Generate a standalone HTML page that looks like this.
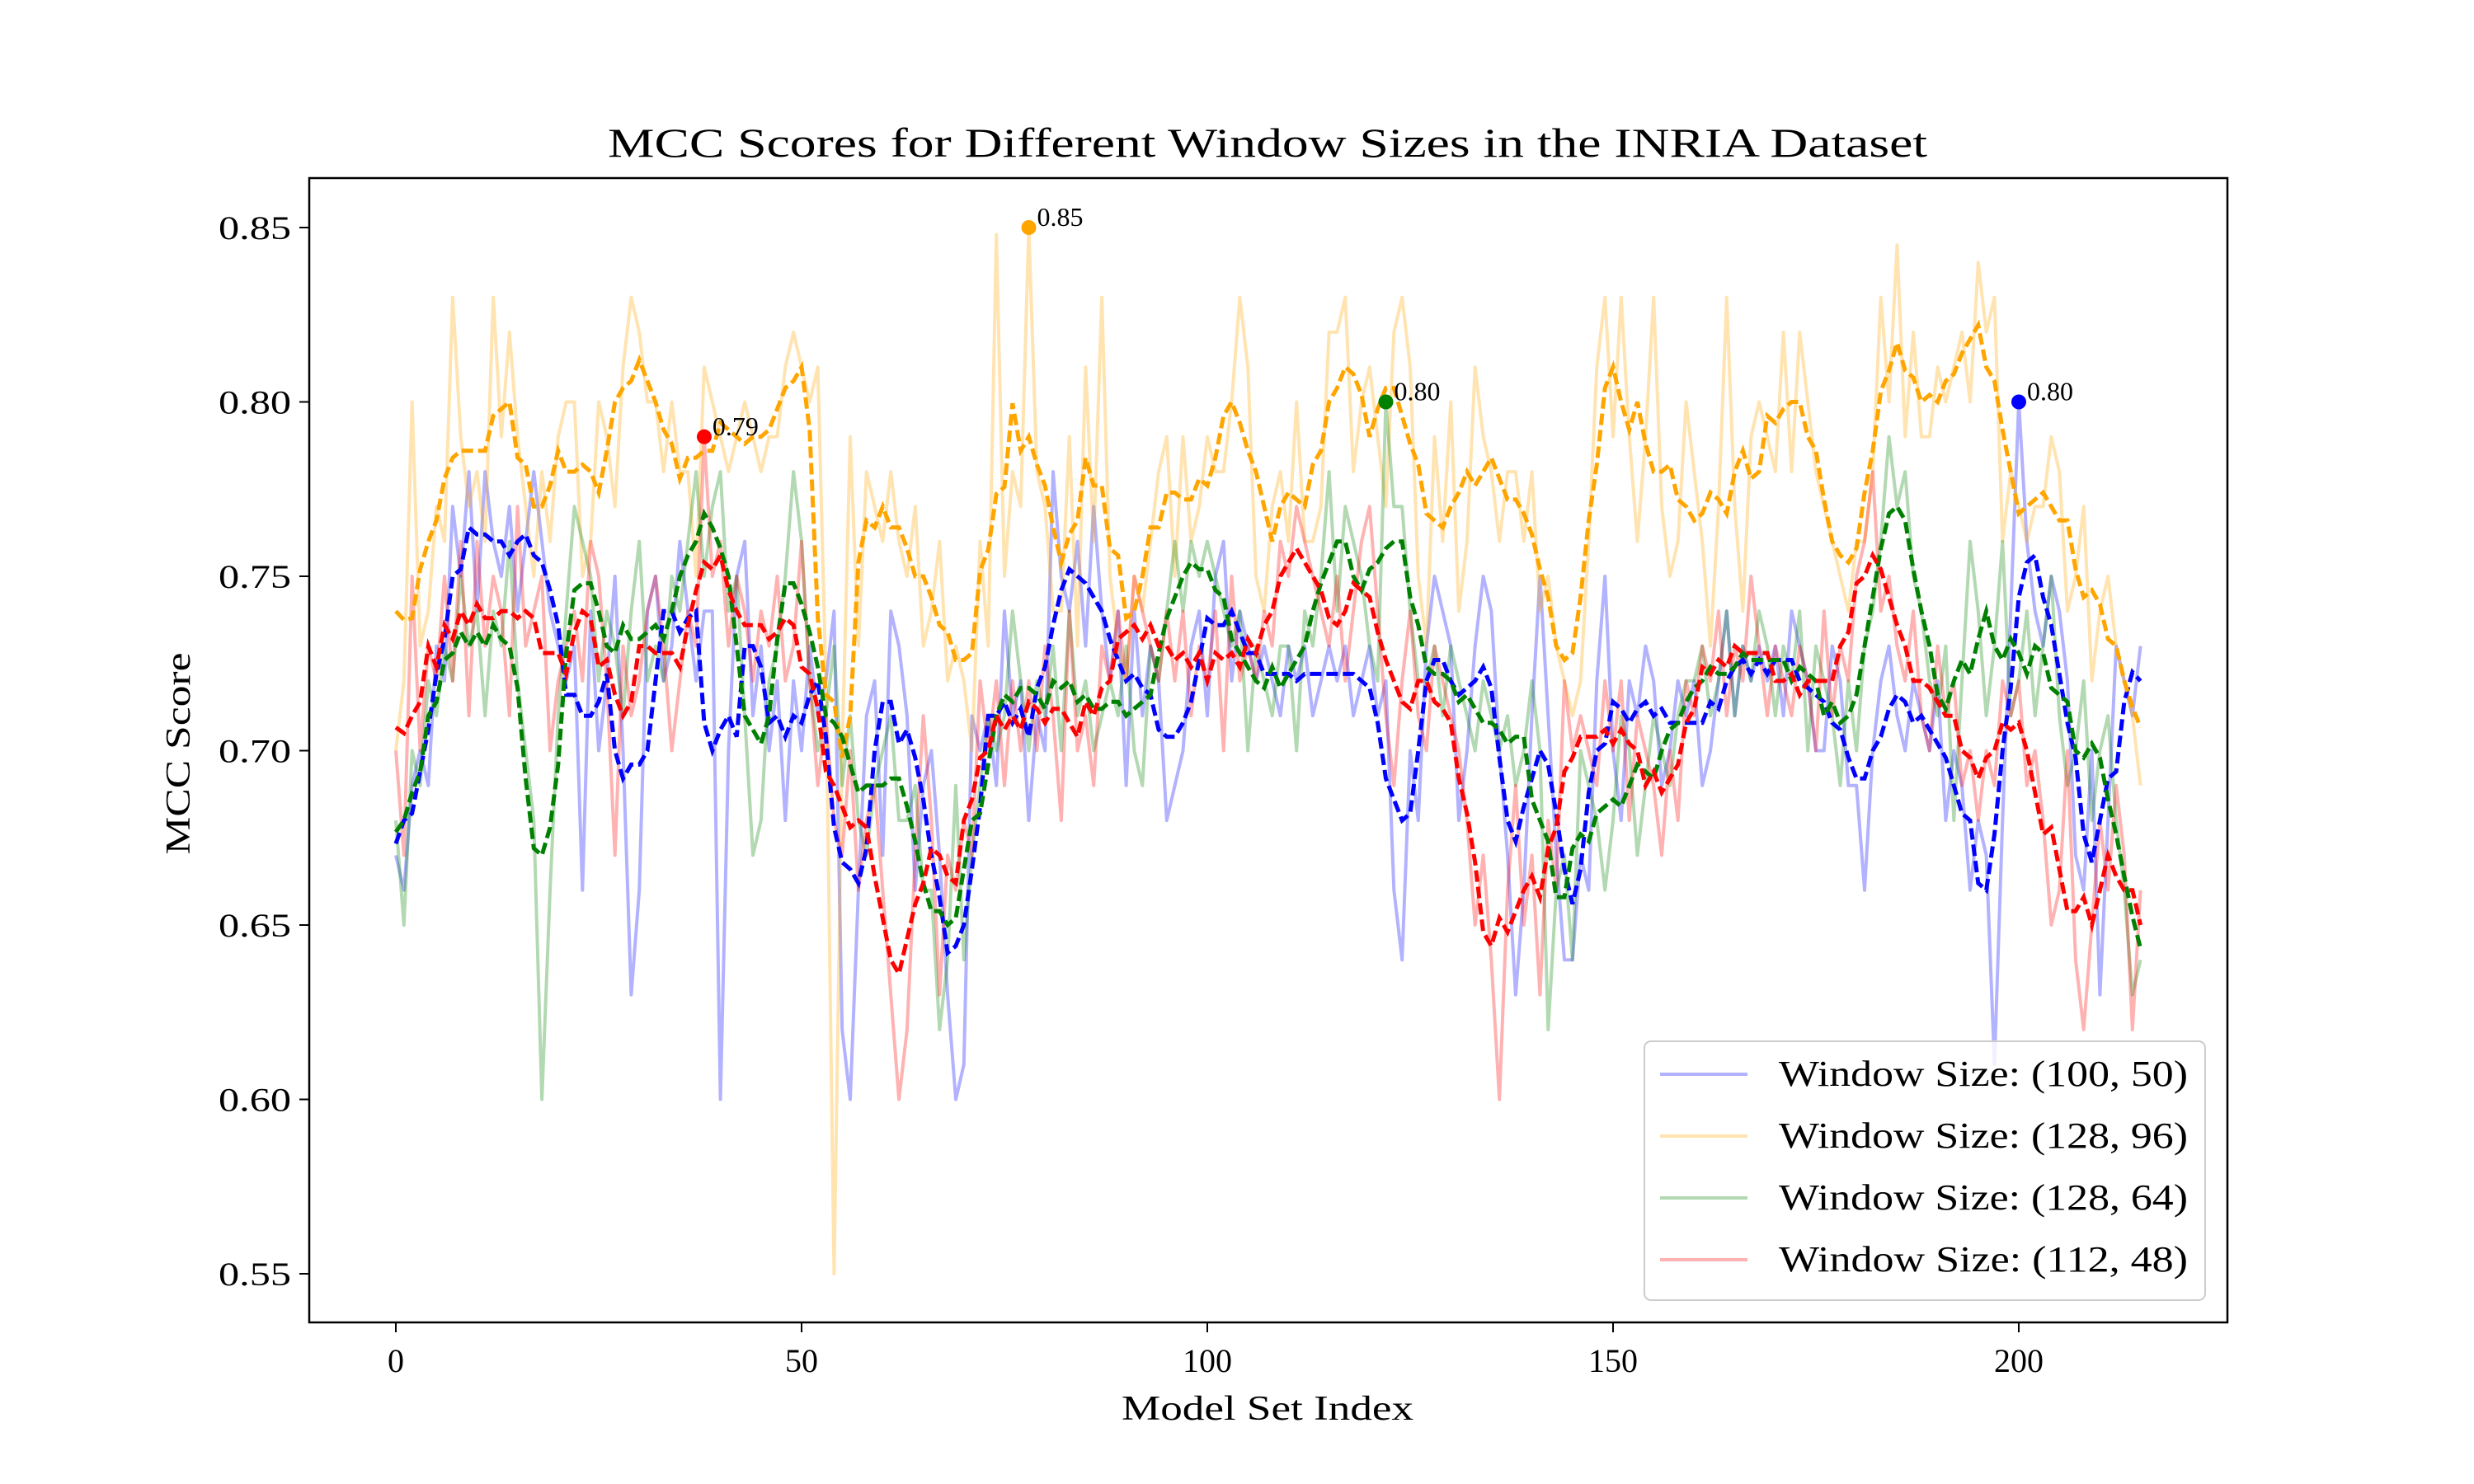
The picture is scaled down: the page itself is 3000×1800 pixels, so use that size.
<!DOCTYPE html>
<html><head><meta charset="utf-8"><style>
html,body{margin:0;padding:0;background:#fff;}
svg{display:block;font-family:"Liberation Serif","DejaVu Serif",serif;}
</style></head><body>
<svg id="chart" width="3000" height="1800" viewBox="0 0 3000 1800">
<rect width="3000" height="1800" fill="#fff"/>
<text x="1537" y="190" font-size="50" text-anchor="middle" textLength="1600" lengthAdjust="spacingAndGlyphs">MCC Scores for Different Window Sizes in the INRIA Dataset</text>
<g id="plot"></g>
<g id="axes"></g>
<text x="1537" y="1722" font-size="42" text-anchor="middle" textLength="354" lengthAdjust="spacingAndGlyphs">Model Set Index</text>
<text x="0" y="0" font-size="42" text-anchor="middle" textLength="245" lengthAdjust="spacingAndGlyphs" transform="translate(230,914) rotate(-90)">MCC Score</text>
<g id="legend"></g>
</svg>
<script>
const xTicks=[0,50,100,150,200];
const yTicks=[0.55,0.60,0.65,0.70,0.75,0.80,0.85];
const seriesNames=["Window Size: (100, 50)","Window Size: (128, 96)","Window Size: (128, 64)","Window Size: (112, 48)"];
const seriesColors=["#0000ff","#ffa500","#008000","#ff0000"];
const blueVals=[.67,.66,.69,.70,.69,.73,.72,.77,.75,.78,
.74,.78,.76,.75,.77,.74,.76,.78,.76,.74,
.73,.72,.73,.66,.74,.70,.72,.75,.70,.63,
.66,.74,.75,.72,.73,.76,.74,.72,.74,.74,
.60,.70,.75,.76,.71,.73,.70,.72,.68,.72,
.70,.73,.71,.72,.74,.62,.60,.66,.71,.72,
.67,.74,.73,.71,.66,.69,.70,.67,.63,.60,
.61,.71,.70,.71,.69,.74,.71,.72,.68,.71,
.70,.78,.75,.74,.76,.73,.77,.74,.72,.74,
.69,.74,.71,.73,.72,.68,.69,.70,.73,.74,
.71,.75,.76,.72,.74,.73,.72,.73,.72,.71,
.73,.72,.73,.71,.72,.73,.72,.73,.71,.72,
.73,.71,.72,.66,.64,.70,.68,.73,.75,.74,
.73,.68,.70,.73,.75,.74,.70,.67,.63,.66,
.71,.75,.71,.67,.64,.64,.67,.66,.72,.75,
.70,.68,.72,.71,.73,.72,.69,.70,.72,.71,
.72,.69,.70,.72,.74,.71,.73,.72,.73,.72,
.73,.71,.74,.73,.72,.70,.70,.73,.72,.69,
.69,.66,.70,.72,.73,.71,.70,.72,.71,.70,
.72,.68,.70,.69,.66,.68,.67,.61,.68,.74,
.80,.76,.74,.73,.75,.74,.72,.67,.66,.70,
.63,.68,.73,.72,.71,.73];
const orangeVals=[.70,.72,.80,.73,.74,.77,.76,.83,.79,.77,
.78,.76,.83,.79,.82,.79,.77,.75,.78,.76,
.79,.80,.80,.75,.76,.80,.79,.77,.81,.83,
.82,.80,.80,.78,.80,.78,.78,.75,.81,.80,
.79,.78,.79,.80,.79,.78,.79,.79,.81,.82,
.81,.80,.81,.72,.55,.70,.79,.73,.78,.77,
.76,.78,.76,.75,.77,.73,.74,.76,.72,.73,
.72,.70,.76,.73,.848,.75,.78,.77,.85,.78,
.77,.74,.74,.79,.73,.81,.76,.83,.75,.73,
.72,.75,.74,.76,.78,.79,.75,.79,.76,.77,
.79,.78,.78,.80,.83,.81,.75,.74,.77,.78,
.76,.80,.76,.76,.77,.82,.82,.83,.78,.80,
.81,.79,.77,.82,.83,.81,.75,.73,.79,.76,
.80,.74,.76,.81,.79,.78,.76,.78,.78,.76,
.78,.74,.75,.73,.72,.71,.72,.76,.81,.83,
.79,.83,.79,.76,.79,.83,.77,.75,.76,.80,
.78,.76,.73,.77,.83,.77,.74,.79,.80,.79,
.78,.82,.78,.82,.80,.78,.77,.76,.75,.74,
.76,.76,.78,.83,.80,.845,.79,.82,.79,.79,
.81,.80,.81,.82,.80,.84,.82,.83,.76,.78,
.77,.76,.77,.77,.79,.78,.74,.75,.77,.72,
.74,.75,.73,.72,.71,.69];
const greenVals=[.68,.65,.70,.69,.72,.71,.73,.72,.75,.73,
.74,.71,.74,.73,.76,.72,.70,.68,.60,.66,
.71,.74,.77,.76,.75,.72,.74,.73,.71,.74,
.76,.72,.73,.72,.75,.74,.76,.78,.75,.77,
.78,.74,.75,.71,.67,.68,.72,.73,.75,.78,
.76,.72,.70,.71,.73,.69,.71,.68,.67,.69,
.70,.71,.68,.68,.69,.66,.66,.62,.64,.69,
.64,.67,.69,.71,.70,.71,.74,.72,.70,.72,
.71,.73,.70,.74,.71,.72,.70,.71,.72,.71,
.73,.70,.69,.73,.72,.74,.76,.74,.76,.75,
.76,.75,.74,.73,.74,.70,.73,.72,.71,.73,
.73,.70,.74,.73,.75,.78,.74,.77,.76,.75,
.73,.72,.80,.77,.77,.74,.72,.72,.73,.71,
.73,.72,.71,.70,.72,.71,.70,.71,.69,.70,
.72,.70,.62,.66,.67,.64,.70,.69,.68,.66,
.68,.71,.70,.67,.69,.71,.70,.69,.71,.72,
.72,.73,.71,.72,.74,.71,.73,.72,.74,.73,
.71,.73,.72,.74,.70,.73,.72,.71,.69,.72,
.70,.73,.74,.76,.79,.77,.78,.75,.74,.72,
.71,.73,.68,.72,.76,.74,.71,.73,.76,.71,
.72,.74,.71,.73,.75,.71,.69,.70,.72,.68,
.70,.71,.68,.66,.63,.64];
const redVals=[.70,.67,.75,.70,.73,.72,.75,.72,.76,.71,
.76,.73,.75,.74,.71,.77,.73,.74,.75,.70,
.72,.73,.74,.72,.76,.75,.72,.67,.73,.71,
.72,.74,.75,.73,.70,.72,.74,.73,.79,.75,
.76,.73,.75,.74,.72,.74,.73,.75,.72,.73,
.76,.72,.69,.71,.68,.67,.70,.66,.68,.69,
.66,.63,.60,.62,.67,.71,.68,.63,.67,.66,
.68,.67,.72,.70,.72,.69,.72,.70,.72,.70,
.73,.71,.68,.74,.70,.71,.69,.73,.72,.74,
.72,.75,.74,.73,.72,.74,.72,.74,.71,.73,
.72,.74,.70,.75,.72,.73,.72,.74,.73,.76,
.75,.77,.76,.75,.74,.73,.75,.72,.74,.76,
.77,.74,.71,.69,.72,.74,.71,.70,.73,.72,
.71,.70,.68,.65,.67,.64,.60,.66,.69,.65,
.67,.63,.68,.66,.72,.70,.71,.70,.69,.72,
.70,.72,.68,.71,.70,.69,.67,.70,.68,.72,
.71,.73,.72,.74,.71,.73,.72,.75,.73,.71,
.73,.72,.71,.73,.72,.70,.74,.71,.73,.72,
.75,.76,.78,.74,.75,.73,.72,.74,.71,.70,
.73,.71,.72,.69,.70,.68,.70,.69,.72,.71,
.72,.69,.70,.68,.65,.66,.70,.64,.62,.65,
.68,.66,.69,.67,.62,.66];
const allSeries=[blueVals,orangeVals,greenVals,redVals];

const NS="http://www.w3.org/2000/svg";
const L=375,R=2701,T=216,B=1604;
const X=i=>480+i*(2448-480)/200;
const Y=v=>276+(0.85-v)/0.30*(1545-276);
function mk(tag,attrs,parent){const e=document.createElementNS(NS,tag);for(const k in attrs)e.setAttribute(k,attrs[k]);parent.appendChild(e);return e;}
const plot=document.getElementById('plot'),axes=document.getElementById('axes'),legend=document.getElementById('legend');
function smooth(a){const w=2;return a.map((_,i)=>{let s=0,n=0;for(let j=i-w;j<=i+w;j++){if(j>=0&&j<a.length){s+=a[j];n++;}}return s/n;});}
allSeries.forEach((vals,si)=>{
  const d=vals.map((v,i)=>(i?'L':'M')+X(i).toFixed(1)+' '+Y(v).toFixed(1)).join(' ');
  const p=mk('path',{d:d,fill:'none',stroke:seriesColors[si],'stroke-width':4,'stroke-opacity':0.3,'stroke-linejoin':'round'},plot);
  
  
});
allSeries.forEach((vals,si)=>{
  const sm=smooth(vals);
  const d=sm.map((v,i)=>(i?'L':'M')+X(i).toFixed(1)+' '+Y(v).toFixed(1)).join(' ');
  const p=mk('path',{d:d,fill:'none',stroke:seriesColors[si],'stroke-width':5,'stroke-dasharray':'14 6'},plot);
  
  
});
allSeries.forEach((vals,si)=>{
  let mi=0;vals.forEach((v,i)=>{if(v>vals[mi])mi=i;});
  const c=mk('circle',{cx:X(mi),cy:Y(vals[mi]),r:9,fill:seriesColors[si]},plot);
  
  
  const t=mk('text',{x:X(mi)+10,y:Y(vals[mi])-2,'font-size':32},plot);
  t.textContent=vals[mi].toFixed(2);
  
  
});
const frame=mk('rect',{x:L,y:T,width:R-L,height:B-T,fill:'none',stroke:'#000','stroke-width':2.5},axes);


xTicks.forEach(t=>{
  mk('line',{x1:X(t),x2:X(t),y1:B,y2:B+12,stroke:'#000','stroke-width':2},axes);
  const tx=mk('text',{x:X(t),y:B+60,'font-size':40,'text-anchor':'middle'},axes);
  tx.textContent=t;
  
  
});
yTicks.forEach(t=>{
  mk('line',{x1:L-12,x2:L,y1:Y(t),y2:Y(t),stroke:'#000','stroke-width':2},axes);
  const tx=mk('text',{x:L-22,y:Y(t)+14,'font-size':40,'text-anchor':'end',textLength:88,lengthAdjust:'spacingAndGlyphs'},axes);
  tx.textContent=t.toFixed(2);
  
  
});
mk('rect',{x:1994,y:1263,width:680,height:314,rx:8,fill:'#fff','fill-opacity':0.8,stroke:'#ccc','stroke-width':2},legend);
seriesNames.forEach((n,i)=>{
  const y=1303+i*75;
  const g=mk('g',{},legend);
  
  
  mk('line',{x1:2013,x2:2119,y1:y,y2:y,stroke:seriesColors[i],'stroke-width':4,'stroke-opacity':0.3},g);
  const t=mk('text',{x:2157,y:y+14,'font-size':44,textLength:496,lengthAdjust:'spacingAndGlyphs'},g);
  t.textContent=n;
});
</script>
</body></html>
